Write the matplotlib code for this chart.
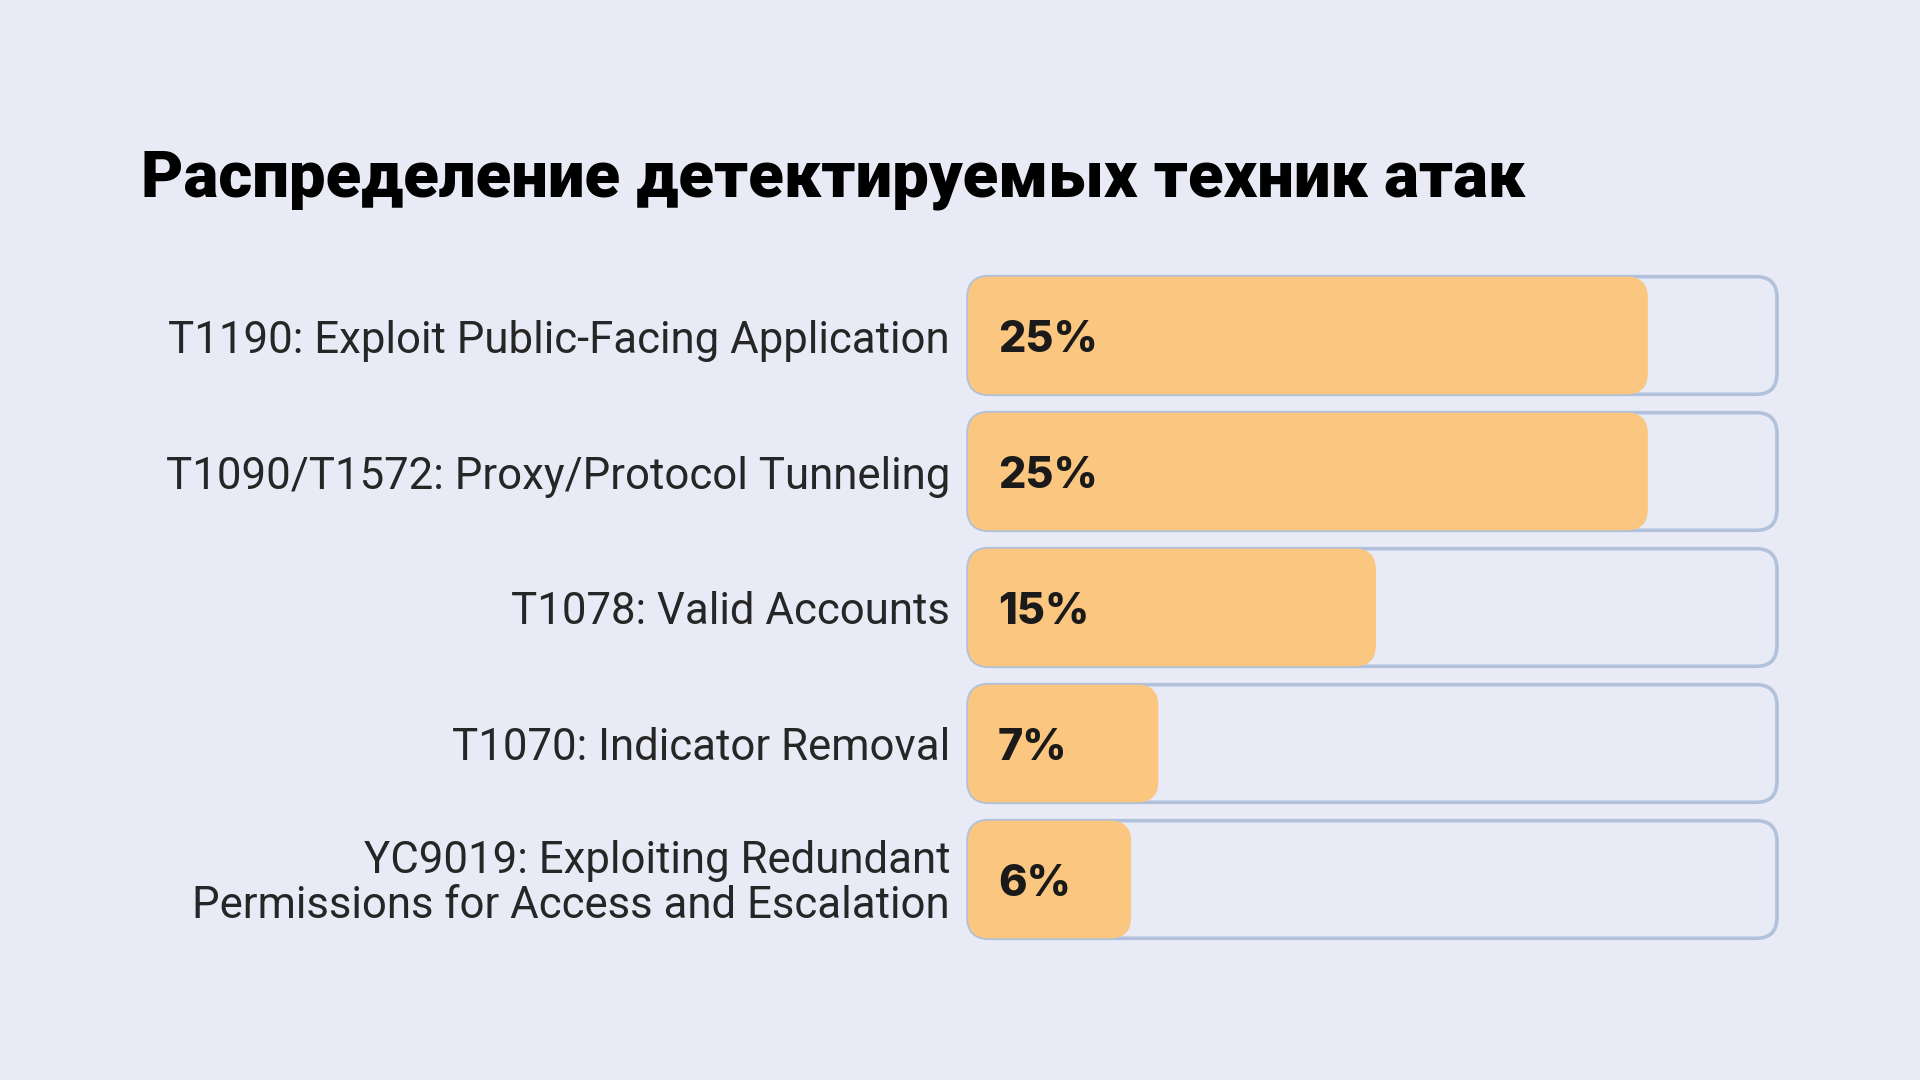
"""
Distribution of detected attack techniques - horizontal progress bars.
"""

import matplotlib.pyplot as plt
from matplotlib.patches import FancyBboxPatch

title = "Распределение детектируемых техник атак"
techniques = [
    "T1190: Exploit Public-Facing Application",
    "T1090/T1572: Proxy/Protocol Tunneling",
    "T1078: Valid Accounts",
    "T1070: Indicator Removal",
    "YC9019: Exploiting Redundant\nPermissions for Access and Escalation",
]
shares = [25, 25, 15, 7, 6]
track_max = 29.75

bg = "#E8EBF5"
orange = "#FBC67F"
outline = "#B1C1DB"

W, H = 1920, 1080
fig = plt.figure(figsize=(W / 100, H / 100), dpi=100)
fig.patch.set_facecolor(bg)

# axes in pixel geometry
left_px, right_px = 968, 1777
top_px, bottom_px = 267.5, 947.5
ax = fig.add_axes([left_px / W, 1 - bottom_px / H,
                   (right_px - left_px) / W, (bottom_px - top_px) / H])
ax.set_facecolor("none")
ax.set_xlim(0, track_max)
ax.set_ylim(len(techniques) - 0.5, -0.5)
ax.axis("off")

px_per_x = (right_px - left_px) / track_max
px_per_y = (bottom_px - top_px) / len(techniques)
aspect = px_per_x / px_per_y
bar_h = 0.865
radius = 21 / px_per_x
label_font = ["Roboto", "DejaVu Sans"]

for i, (name, val) in enumerate(zip(techniques, shares)):
    y0 = i - bar_h / 2
    track = FancyBboxPatch((0, y0), track_max, bar_h,
                           boxstyle=f"round,pad=0,rounding_size={radius}",
                           mutation_aspect=aspect, facecolor="none",
                           edgecolor=outline, linewidth=2.6, clip_on=False,
                           zorder=1)
    ax.add_patch(track)
    bar = FancyBboxPatch((0, y0), val, bar_h,
                         boxstyle=f"round,pad=0,rounding_size={radius}",
                         mutation_aspect=aspect, facecolor=orange,
                         edgecolor="none", clip_on=False, zorder=2)
    ax.add_patch(bar)
    ax.text(1.1, i, f"{val}%", ha="left", va="center_baseline",
            fontsize=31, fontweight="heavy", family=["Inter", "DejaVu Sans"],
            color="#1A1A1A", zorder=3)
    if "\n" in name:
        ax.text(-18 / px_per_x, i + 4 / px_per_y, name, ha="right", va="center",
                fontsize=31.5, family=label_font, color="#262626",
                linespacing=1.08, zorder=3)
    else:
        ax.text(-18 / px_per_x, i + 17 / px_per_y, name, ha="right",
                va="baseline", fontsize=31.5, family=label_font,
                color="#262626", zorder=3)

fig.text(141 / W, 1 - 196 / H, title, ha="left", va="baseline",
         fontsize=47, fontweight="black", family=["Roboto", "DejaVu Sans"],
         color="#000000")

fig.savefig("out.png", dpi=100, facecolor=bg)
